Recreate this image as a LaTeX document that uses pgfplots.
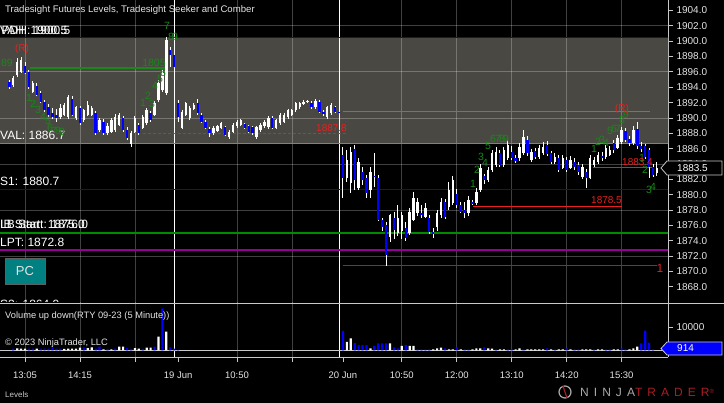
\documentclass[border=0pt]{standalone}
\usepackage{pgfplots}
\pgfplotsset{compat=1.18}
\usepackage{pgfplotstable}
\usepackage{fontspec}
\setmainfont{Liberation Sans}
\definecolor{va}{RGB}{74,72,66}
\definecolor{tg}{RGB}{200,200,200}
\definecolor{txt}{RGB}{228,228,228}
\definecolor{seek}{RGB}{25,135,25}
\definecolor{rd}{RGB}{235,30,30}
\definecolor{ntred}{RGB}{170,30,35}
\definecolor{tealbox}{RGB}{0,128,128}
\definecolor{pur}{RGB}{150,0,150}
\definecolor{grn}{RGB}{0,140,0}
\definecolor{dn}{RGB}{0,0,255}
\definecolor{lgrn}{RGB}{70,150,60}
\definecolor{boxgray}{RGB}{95,95,95}
\definecolor{logogray}{RGB}{170,170,170}

% candles: k = 5-minute bar index (0 = 13:05 on 16 Jun)
\pgfplotstableread{
k o h l c
-4 1894.7 1895.0 1893.8 1894.0
-3 1894.3 1895.5 1894.0 1895.2
-2 1895.6 1897.8 1895.3 1897.3
-1 1896.0 1898.0 1895.8 1897.5
0 1896.8 1897.3 1895.7 1895.9
1 1896.0 1896.2 1893.8 1894.0
2 1893.4 1894.8 1893.2 1894.6
3 1894.2 1894.5 1892.8 1893.0
4 1893.2 1893.5 1891.9 1892.1
5 1892.1 1892.4 1890.8 1891.0
6 1891.4 1891.8 1890.1 1890.4
7 1890.6 1891.3 1889.8 1890.1
8 1890.4 1891.2 1889.5 1890.0
9 1890.1 1891.8 1889.9 1891.3
10 1890.4 1892.0 1890.2 1891.7
11 1890.1 1893.0 1889.9 1892.7
12 1892.5 1892.8 1890.2 1890.4
13 1890.0 1891.6 1889.8 1891.4
14 1891.3 1891.6 1889.1 1889.3
15 1889.7 1891.2 1889.5 1891.0
16 1890.4 1892.2 1890.2 1891.7
17 1890.4 1891.6 1890.2 1891.3
18 1890.6 1890.9 1887.8 1888.0
19 1888.4 1890.0 1888.2 1889.7
20 1889.5 1889.8 1887.8 1888.0
21 1888.0 1889.3 1887.8 1888.9
22 1888.2 1890.0 1888.0 1889.7
23 1888.4 1890.5 1888.2 1890.1
24 1889.1 1890.7 1888.9 1890.4
25 1890.0 1890.3 1888.2 1888.4
26 1888.4 1888.8 1887.1 1887.4
27 1886.6 1888.3 1886.2 1888.0
28 1888.2 1890.3 1888.0 1890.0
29 1889.1 1889.4 1887.8 1888.0
30 1888.7 1890.4 1888.5 1890.1
31 1889.3 1891.3 1889.1 1891.0
32 1890.6 1890.9 1889.5 1889.7
33 1890.4 1892.2 1890.2 1891.9
34 1892.3 1894.9 1892.1 1894.6
35 1893.6 1896.2 1893.4 1895.9
36 1893.2 1900.5 1893.0 1900.2
37 1898.9 1899.3 1896.6 1898.2
38 1898.2 1898.5 1896.4 1896.6
39 1891.9 1892.3 1889.5 1890.1
40 1888.7 1891.0 1888.5 1890.8
41 1890.4 1892.1 1890.2 1891.9
42 1890.0 1891.5 1889.8 1891.3
43 1891.2 1891.9 1891.0 1891.7
44 1891.9 1892.5 1890.4 1890.6
45 1890.4 1890.6 1889.3 1889.5
46 1889.5 1889.7 1888.5 1888.7
47 1888.6 1888.8 1887.5 1888.0
48 1888.0 1888.9 1887.8 1888.7
49 1888.3 1889.1 1888.1 1888.9
50 1888.7 1889.5 1888.5 1889.3
51 1888.8 1889.0 1887.6 1887.8
52 1887.5 1888.4 1887.3 1888.2
53 1888.2 1889.3 1888.0 1889.1
54 1888.9 1889.7 1888.7 1889.5
55 1889.1 1889.9 1888.9 1889.7
56 1889.2 1889.4 1888.5 1888.7
57 1888.9 1889.1 1888.0 1888.2
58 1888.8 1889.0 1887.8 1888.0
59 1887.5 1889.0 1887.3 1888.8
60 1888.4 1889.3 1888.2 1889.1
61 1888.9 1889.7 1888.7 1889.5
62 1888.8 1890.2 1888.6 1890.0
63 1890.0 1890.2 1888.5 1888.7
64 1888.7 1889.9 1888.5 1889.7
65 1889.3 1890.6 1889.1 1890.4
66 1889.5 1890.6 1889.3 1890.4
67 1890.1 1891.2 1889.9 1891.0
68 1890.4 1891.2 1890.2 1891.0
69 1891.0 1892.1 1890.8 1891.9
70 1891.4 1892.1 1891.2 1891.9
71 1891.9 1892.3 1891.7 1892.1
72 1892.1 1892.4 1891.9 1892.2
73 1891.9 1892.2 1891.2 1891.4
74 1891.4 1892.4 1891.2 1892.2
75 1892.1 1892.3 1890.6 1890.8
76 1890.8 1891.0 1890.3 1890.5
77 1890.1 1891.6 1889.9 1891.4
78 1890.6 1891.9 1890.4 1891.7
79 1891.4 1891.6 1890.6 1890.8
80 1890.8 1890.9 1890.6 1890.7
81 1885.2 1886.2 1879.6 1882.2
82 1882.2 1885.8 1881.6 1884.5
83 1881.5 1886.2 1880.2 1885.5
84 1886.0 1886.5 1880.6 1881.9
85 1880.9 1884.8 1880.6 1884.3
86 1883.0 1883.6 1881.2 1881.9
87 1882.2 1882.6 1879.6 1880.2
88 1880.6 1883.6 1879.6 1883.0
89 1882.5 1885.4 1881.0 1882.3
90 1882.2 1882.6 1876.5 1876.7
91 1876.7 1876.9 1875.3 1875.8
92 1876.1 1876.4 1870.7 1872.1
93 1874.5 1877.5 1873.8 1877.3
94 1877.0 1877.7 1874.2 1875.4
95 1875.0 1878.6 1874.6 1877.0
96 1875.3 1877.8 1874.2 1877.3
97 1875.7 1876.4 1874.0 1874.4
98 1875.0 1878.2 1874.8 1877.7
99 1876.7 1880.4 1876.5 1879.6
100 1877.6 1879.6 1877.2 1879.0
101 1877.6 1878.6 1876.9 1877.3
102 1877.1 1878.9 1876.9 1878.3
103 1877.0 1877.4 1874.9 1875.1
104 1875.1 1875.7 1874.4 1874.9
105 1875.8 1878.0 1875.3 1877.6
106 1877.3 1879.6 1877.0 1879.0
107 1879.0 1879.4 1876.8 1877.1
108 1878.4 1881.7 1878.0 1880.6
109 1878.9 1882.4 1878.6 1881.9
110 1880.1 1880.7 1878.3 1878.7
111 1878.7 1879.0 1877.6 1877.8
112 1878.0 1879.0 1877.0 1877.6
113 1877.6 1879.8 1877.2 1879.3
114 1879.0 1879.3 1878.6 1878.9
115 1878.9 1880.9 1878.6 1880.3
116 1880.6 1884.0 1880.4 1883.5
117 1882.4 1882.7 1881.4 1881.9
118 1881.9 1883.6 1881.6 1883.2
119 1883.2 1885.8 1883.0 1885.4
120 1883.9 1886.2 1883.6 1885.6
121 1885.4 1885.8 1883.6 1883.9
122 1883.9 1886.2 1883.6 1885.8
123 1884.8 1887.1 1884.5 1886.5
124 1885.6 1886.3 1884.5 1884.8
125 1884.8 1885.1 1884.1 1884.4
126 1884.8 1886.7 1884.4 1886.2
127 1885.4 1888.4 1885.2 1887.5
128 1887.1 1887.6 1885.0 1885.4
129 1884.5 1886.0 1884.2 1885.6
130 1885.7 1886.1 1884.6 1884.9
131 1884.9 1886.5 1884.7 1886.1
132 1885.4 1886.9 1885.2 1886.2
133 1886.5 1887.0 1885.0 1885.3
134 1885.4 1885.7 1884.0 1884.3
135 1884.3 1885.4 1884.0 1884.9
136 1884.8 1885.2 1883.0 1883.2
137 1883.5 1885.2 1883.3 1884.8
138 1884.5 1884.9 1882.9 1883.2
139 1883.5 1885.0 1883.3 1884.5
140 1884.3 1884.8 1883.2 1883.6
141 1883.9 1884.3 1882.6 1882.9
142 1882.3 1884.0 1882.0 1883.6
143 1882.9 1883.3 1880.9 1882.2
144 1882.2 1885.2 1882.0 1884.8
145 1883.9 1884.9 1883.6 1884.5
146 1884.3 1885.6 1884.0 1885.2
147 1885.0 1885.5 1884.4 1884.8
148 1884.9 1886.5 1884.6 1886.1
149 1885.2 1886.3 1885.0 1885.8
150 1886.7 1887.1 1885.5 1885.8
151 1886.1 1887.8 1885.9 1887.4
152 1886.9 1888.8 1886.6 1888.4
153 1888.3 1888.7 1886.9 1887.1
154 1887.2 1887.6 1886.3 1886.7
155 1886.7 1888.9 1886.5 1888.4
156 1888.5 1889.5 1886.0 1886.3
157 1886.4 1886.8 1885.6 1886.0
158 1886.3 1886.6 1884.6 1884.9
159 1885.8 1886.1 1882.2 1883.6
160 1883.6 1884.0 1882.3 1882.6
161 1882.8 1884.3 1882.5 1883.5
}\candles

% volume, up (white) bars
\pgfplotstableread{
k v
-2 920
-1 780
0 780
3 780
10 640
11 780
12 780
13 780
14 1200
16 1060
17 1350
20 500
22 500
24 1630
25 1630
28 1060
29 780
31 1200
32 1200
34 5890
36 8010
82 3700
83 5180
88 920
93 3050
96 1915
98 1915
99 1915
104 500
105 920
106 1200
108 500
109 500
111 500
114 500
115 920
116 920
118 920
119 780
121 500
122 500
125 500
126 920
128 500
129 500
130 500
131 500
132 500
134 500
136 500
137 500
139 500
142 500
143 500
144 500
146 500
147 500
150 500
151 500
154 500
155 920
156 1630
}\volw

% volume, down (blue) bars
\pgfplotstableread{
k v
-3 780
1 780
2 780
4 780
5 780
6 780
7 1350
8 780
9 780
15 1350
18 780
19 1630
21 640
23 780
26 1060
27 640
30 640
33 1630
35 17940
37 1350
38 780
39 210
81 8300
84 3100
85 2340
86 2340
87 2340
89 1915
90 3050
91 3050
92 3050
94 1350
95 920
97 2340
100 500
101 500
102 500
103 500
107 920
110 1350
112 500
113 500
117 1350
120 500
123 500
124 500
127 500
133 920
135 500
138 920
140 500
141 500
145 500
148 500
149 500
152 920
153 500
157 3050
158 8440
159 3330
160 500
}\volb

\newcommand{\sk}[3]{\node[text=seek, font=\fontsize{10.5}{10.5}\selectfont, inner sep=0pt] at (#1pt,-#2pt) {#3};}
\newcommand{\lvl}[3]{\node[anchor=base west, text=white, font=\fontsize{12}{12}\selectfont, inner sep=0pt] at (#1pt,-#2pt) {#3};}

\begin{document}
\begin{tikzpicture}
\fill[black] (0,0) rectangle (724pt,-403pt);
\useasboundingbox (0,0) rectangle (724pt,-403pt);

% ---------------- price panel ----------------
\begin{axis}[
  at={(0pt,0pt)}, anchor=north west,
  scale only axis, width=668pt, height=303pt,
  xmin=-6.37, xmax=163.82, ymin=1865.875, ymax=1905.369,
  axis x line=none, axis y line*=right,
  axis line style={-, draw=tg, line width=0.8pt},
  ytick={1868,1870,...,1904},
  tick align=outside, major tick length=5pt,
  tick style={draw=tg, line width=0.8pt},
  yticklabel style={font=\fontsize{10}{10}\selectfont, text=txt,
    /pgf/number format/.cd, fixed, fixed zerofill, precision=1, 1000 sep={}, assume math mode=true},
  clip=true,
]
% value area
\addplot[fill=va, draw=none, forget plot] coordinates {(-7,1886.7) (165,1886.7) (165,1900.5) (-7,1900.5)} -- cycle;
% grid
\pgfplotsinvokeforeach{0,14,28,54,68,96,110,124,138,152}{
  \draw[white, opacity=0.25, line width=0.8pt] (axis cs:#1,1865) -- (axis cs:#1,1906);
}
\pgfplotsinvokeforeach{1902,1896,1890,1884,1878,1872}{
  \draw[white, opacity=0.25, line width=0.8pt] (axis cs:-7,#1) -- (axis cs:165,#1);
}
% session breaks
\addplot[white, line width=1pt, forget plot] coordinates {(38.04,1865) (38.04,1906)};
\addplot[white, line width=1pt, forget plot] coordinates {(80.25,1865) (80.25,1906)};
% levels
\addplot[dn, line width=1.6pt, forget plot] coordinates {(-7,1900.5) (165,1900.5)};
\addplot[cyan, line width=1.3pt, forget plot] coordinates {(-7,1886.7) (165,1886.7)};
\addplot[dn, line width=1.3pt, forget plot] coordinates {(-7,1880.7) (165,1880.7)};
\addplot[grn, line width=1.5pt, forget plot] coordinates {(-7,1875.0) (165,1875.0)};
\addplot[pur, line width=1.5pt, forget plot] coordinates {(-7,1872.8) (165,1872.8)};
% seeker / comber lines
\addplot[seek, line width=1.2pt, forget plot] coordinates {(1.3,1896.5) (35.9,1896.5)};
\addplot[lgrn, line width=0.8pt, forget plot] coordinates {(81,1890.9) (159.2,1890.9)};
\addplot[rd, line width=0.8pt, dashed, dash pattern=on 3pt off 2pt, forget plot] coordinates {(30.1,1888.0) (82,1888.0)};
\addplot[rd, line width=0.9pt, forget plot] coordinates {(114.1,1878.5) (152.1,1878.5)};
\addplot[rd, line width=0.9pt, forget plot] coordinates {(144.7,1883.5) (160,1883.5)};
\addplot[rd!80!black, line width=0.9pt, forget plot] coordinates {(81,1870.8) (161,1870.8)};
% candles: wicks
\addplot[draw=none, forget plot, error bars/.cd, y dir=both, y explicit, error mark=none,
  error bar style={draw=white, line width=0.9pt, solid}]
  table[x=k, y expr={(\thisrow{h}+\thisrow{l})/2}, y error expr={(\thisrow{h}-\thisrow{l})/2}] {\candles};
% up bodies
\addplot[draw=none, forget plot, restrict expr to domain={\thisrow{c}-\thisrow{o}}{0:100},
  error bars/.cd, y dir=both, y explicit, error mark=none,
  error bar style={draw=white, line width=2.4pt, solid}]
  table[x=k, y expr={(\thisrow{o}+\thisrow{c})/2}, y error expr={max(abs(\thisrow{c}-\thisrow{o})/2,0.07)}] {\candles};
% down bodies
\addplot[draw=none, forget plot, restrict expr to domain={\thisrow{c}-\thisrow{o}}{-100:-0.01},
  error bars/.cd, y dir=both, y explicit, error mark=none,
  error bar style={draw=dn, line width=2.4pt, solid}]
  table[x=k, y expr={(\thisrow{o}+\thisrow{c})/2}, y error expr={max(abs(\thisrow{c}-\thisrow{o})/2,0.07)}] {\candles};
\end{axis}

% ---------------- volume panel ----------------
\begin{axis}[
  at={(0pt,-303pt)}, anchor=north west,
  scale only axis, width=668pt, height=54pt,
  xmin=-6.37, xmax=163.82, ymin=-2766, ymax=20213,
  axis x line*=bottom, axis y line*=right,
  axis line style={-, draw=tg, line width=0.8pt},
  ytick={10000}, scaled y ticks=false,
  xtick={0,14,28,39,54,68,81,96,110,124,138,152},
  xticklabels={13:05,14:15,,19 Jun,10:50,,20 Jun,10:50,12:00,13:10,14:20,15:30},
  tick align=outside, major tick length=5pt,
  tick style={draw=tg, line width=0.8pt},
  yticklabel style={font=\fontsize{10}{10}\selectfont, text=txt,
    /pgf/number format/.cd, fixed, precision=0, 1000 sep={}, assume math mode=true},
  xticklabel style={font=\fontsize{9.5}{10}\selectfont, text=txt, yshift=-6pt},
  clip=true,
]
\pgfplotsinvokeforeach{0,14,28,54,68,96,110,124,138,152}{
  \draw[white, opacity=0.25, line width=0.8pt] (axis cs:#1,-3000) -- (axis cs:#1,21000);
}
\addplot[white, line width=1pt, forget plot] coordinates {(38.04,-3000) (38.04,21000)};
\addplot[white, line width=1pt, forget plot] coordinates {(80.25,-3000) (80.25,21000)};
\addplot[tg, line width=0.7pt, forget plot] coordinates {(-7,0) (165,0)};
\addplot[ybar, bar width=2.2pt, bar shift=0pt, fill=white, draw=none, forget plot] table[x=k, y=v] {\volw};
\addplot[ybar, bar width=2.2pt, bar shift=0pt, fill=dn, draw=none, forget plot] table[x=k, y=v] {\volb};
\end{axis}

% panel separator
\draw[tg, line width=0.8pt] (0,-303pt) -- (724pt,-303pt);

% header and level labels
\node[anchor=west, text=txt, font=\fontsize{9.6}{10}\selectfont, inner sep=0pt] at (5pt,-10pt) {Tradesight Futures Levels, Tradesight Seeker and Comber};
\lvl{0}{35}{VAH: 1900.5}
\lvl{1.5}{35}{PDH: 1900.5}
\lvl{0}{140}{VAL: 1886.7}
\lvl{0}{186}{S1: 1880.7}
\lvl{0}{229}{IB Start: 1875.0}
\lvl{0}{229}{LB Start: 1876.0}
\lvl{0}{247}{LPT: 1872.8}
\begin{scope}
\clip (0,0) rectangle (668pt,-302pt);
\lvl{0}{309}{S2: 1864.9}
\end{scope}

% seeker counts
\sk{7}{63}{89}
\sk{29}{98}{1}\sk{33}{104}{2}\sk{38}{110}{3}\sk{43}{117}{4}\sk{48}{121}{5}
\sk{50}{128}{6}\sk{54}{131}{7}\sk{58}{131}{8}\sk{62}{132}{9}
\sk{143}{103}{1}\sk{148}{96}{2}\sk{152}{104}{3}\sk{155}{86}{4}\sk{160}{79}{5}\sk{163}{73}{6}
\sk{154}{63}{1805}
\sk{167}{26}{7}\sk{171}{37}{8}\sk{175}{37}{9}
\sk{473}{184}{1}\sk{477}{170}{2}\sk{481}{157}{3}\sk{485}{163}{4}\sk{488}{146}{5}
\sk{493}{139}{6}\sk{498}{139}{7}\sk{502}{139}{8}\sk{506}{139}{9}
\sk{594}{149}{1}\sk{598}{142}{2}\sk{602}{140}{3}\sk{606}{143}{4}\sk{610}{131}{5}
\sk{614}{129}{6}\sk{618}{129}{7}\sk{622}{120}{8}\sk{626}{115}{9}
\sk{642}{158}{1}\sk{645}{170}{2}\sk{649}{190}{3}\sk{653}{187}{4}

% red labels
\node[text=rd, font=\fontsize{10}{10}\selectfont, inner sep=0pt] at (22pt,-49pt) {(R)};
\node[text=rd, font=\fontsize{10}{10}\selectfont, inner sep=0pt] at (622pt,-109pt) {(R)};
\node[anchor=east, text=rd, font=\fontsize{10}{10}\selectfont, inner sep=0pt] at (347pt,-128pt) {1887.8};
\node[anchor=east, text=rd, font=\fontsize{10}{10}\selectfont, inner sep=0pt] at (622pt,-200.5pt) {1878.5};
\node[anchor=east, text=rd, font=\fontsize{10}{10}\selectfont, inner sep=0pt] at (653pt,-162pt) {1883.4};
\node[text=rd, font=\fontsize{12}{12}\selectfont, inner sep=0pt] at (660pt,-268pt) {1};

% PC button
\draw[draw=boxgray, fill=tealbox, line width=0.8pt] (5pt,-258pt) rectangle (45pt,-284pt);
\node[text=txt, font=\fontsize{13}{13}\selectfont] at (25pt,-271pt) {PC};

% current price / volume markers
\draw[tg, fill=black, line width=0.8pt] (661pt,-168pt) -- (667pt,-161pt) -- (722pt,-161pt) -- (722pt,-175pt) -- (667pt,-175pt) -- cycle;
\node[anchor=west, text=white, font=\fontsize{10}{10}\selectfont, inner sep=0pt] at (677pt,-168pt) {1883.5};
\draw[tg, fill=dn, line width=0.8pt] (661pt,-348.5pt) -- (667pt,-342pt) -- (722pt,-342pt) -- (722pt,-355pt) -- (667pt,-355pt) -- cycle;
\node[anchor=west, text=white, font=\fontsize{10}{10}\selectfont, inner sep=0pt] at (677pt,-348.5pt) {914};

% volume panel texts
\node[anchor=west, text=txt, font=\fontsize{9.3}{10}\selectfont, inner sep=0pt] at (5pt,-316pt) {Volume up down(RTY 09-23 (5 Minute))};
\node[anchor=west, text=txt, font=\fontsize{9.3}{10}\selectfont, inner sep=0pt] at (5pt,-343pt) {\textcopyright{} 2023 NinjaTrader, LLC};
\node[anchor=west, text=tg, font=\fontsize{8}{9}\selectfont, inner sep=0pt] at (5pt,-395pt) {Levels};

% logo
\draw[logogray, line width=1.2pt] (565pt,-392pt) circle (6pt);
\draw[ntred, line width=1.2pt] (563pt,-386pt) -- (567pt,-398pt);
\node[anchor=west, inner sep=0pt, font=\fontsize{12}{12}\selectfont\addfontfeature{LetterSpace=42}] at (580pt,-392pt)
  {\textcolor{logogray}{NINJA}\textcolor{ntred}{TRADER}\raisebox{3pt}{\textcolor{ntred}{\fontsize{6}{6}\selectfont ®}}};
\end{tikzpicture}
\end{document}
